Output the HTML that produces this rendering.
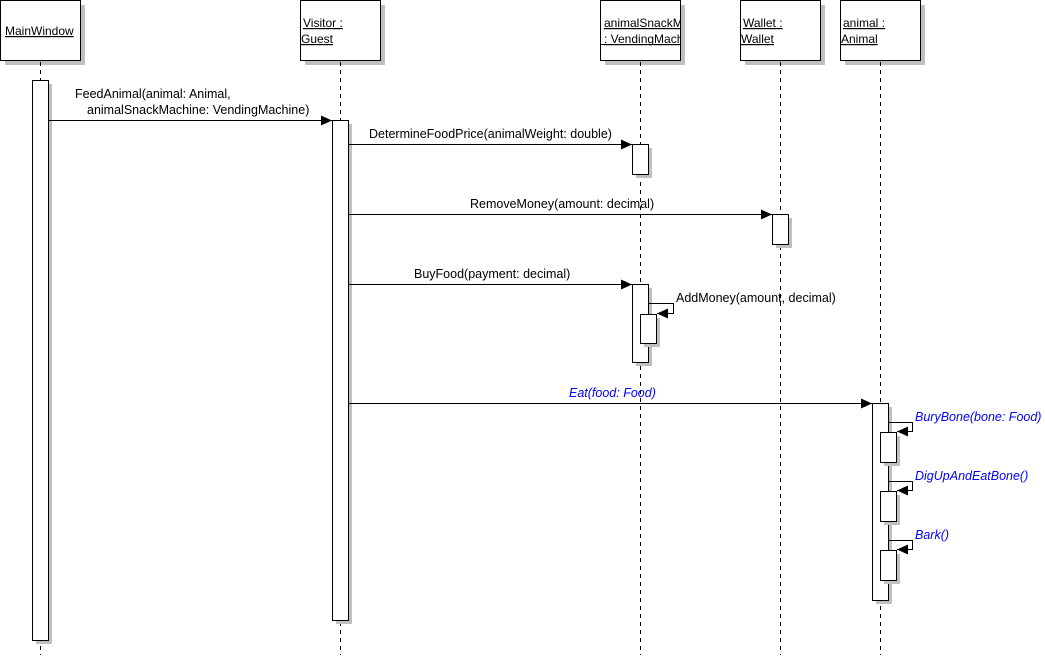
<!DOCTYPE html>
<html><head><meta charset="utf-8"><style>
html,body{margin:0;padding:0;background:#fff;}
svg{display:block;font-family:"Liberation Sans",Arial,sans-serif;font-size:12.5px;}
</style></head><body>
<svg width="1045" height="665" viewBox="0 0 1045 665" xmlns="http://www.w3.org/2000/svg">
<defs>
<marker id="a" markerWidth="12" markerHeight="10" refX="11" refY="5" orient="auto" markerUnits="userSpaceOnUse"><path d="M0,0 L11,5 L0,10 z" fill="#000"/></marker>
<clipPath id="c"><rect x="601" y="1" width="79" height="59"/></clipPath>
</defs>
<g fill="#c0c0c0">
<rect x="5" y="5" width="80" height="60"/><rect x="305" y="5" width="80" height="60"/><rect x="605" y="5" width="80" height="60"/><rect x="745" y="5" width="80" height="60"/><rect x="845" y="5" width="80" height="60"/>
</g>
<g stroke="#000" stroke-dasharray="4,4" stroke-width="1">
<line x1="40.5" y1="62" x2="40.5" y2="655"/><line x1="340.5" y1="62" x2="340.5" y2="655"/><line x1="640.5" y1="62" x2="640.5" y2="655"/><line x1="780.5" y1="62" x2="780.5" y2="655"/><line x1="880.5" y1="62" x2="880.5" y2="655"/>
</g>
<g fill="#fff" stroke="#000">
<rect x="0.5" y="0.5" width="80" height="60"/><rect x="300.5" y="0.5" width="80" height="60"/><rect x="600.5" y="0.5" width="80" height="60"/><rect x="740.5" y="0.5" width="80" height="60"/><rect x="840.5" y="0.5" width="80" height="60"/>
</g>
<line x1="601" y1="44.5" x2="680" y2="44.5" stroke="#000"/>
<g fill="#000" text-decoration="underline" font-size="12">
<text x="5" y="35">MainWindow</text>
<text x="303" y="27">Visitor :</text><text x="301" y="43">Guest</text>
<g clip-path="url(#c)"><text x="604" y="27">animalSnackM</text><text x="604" y="43">: VendingMach</text></g>
<text x="743" y="27">Wallet :</text><text x="741" y="43">Wallet</text>
<text x="843" y="27">animal :</text><text x="841" y="43">Animal</text>
</g>
<g fill="#c0c0c0">
<rect x="36" y="84" width="16" height="560"/><rect x="336" y="124" width="16" height="500"/>
<rect x="636" y="148" width="16" height="30"/><rect x="776" y="218" width="16" height="30"/>
<rect x="636" y="288" width="16" height="78"/><rect x="876" y="407" width="16" height="197"/>
</g>
<g fill="#fff" stroke="#000">
<rect x="32.5" y="80.5" width="16" height="560"/><rect x="332.5" y="120.5" width="16" height="500"/>
<rect x="632.5" y="144.5" width="16" height="30"/><rect x="772.5" y="214.5" width="16" height="30"/>
<rect x="632.5" y="284.5" width="16" height="78"/><rect x="872.5" y="403.5" width="16" height="197"/>
</g>
<g fill="#c0c0c0"><rect x="644" y="318" width="16" height="29"/><rect x="884" y="436" width="16" height="30"/><rect x="884" y="495" width="16" height="30"/><rect x="884" y="554" width="16" height="30"/></g>
<g fill="#fff" stroke="#000"><rect x="640.5" y="314.5" width="16" height="29"/><rect x="880.5" y="432.5" width="16" height="30"/><rect x="880.5" y="491.5" width="16" height="30"/><rect x="880.5" y="550.5" width="16" height="30"/></g>
<g stroke="#000" fill="none">
<line x1="49" y1="120.5" x2="332" y2="120.5" marker-end="url(#a)"/>
<line x1="349" y1="144.5" x2="632" y2="144.5" marker-end="url(#a)"/>
<line x1="349" y1="214.5" x2="772" y2="214.5" marker-end="url(#a)"/>
<line x1="349" y1="284.5" x2="632" y2="284.5" marker-end="url(#a)"/>
<line x1="349" y1="403.5" x2="872" y2="403.5" marker-end="url(#a)"/>
<polyline points="649,303.5 673.5,303.5 673.5,313.5 657,313.5" marker-end="url(#a)"/>
<polyline points="889,422.5 912.5,422.5 912.5,431.5 897,431.5" marker-end="url(#a)"/>
<polyline points="889,481.5 912.5,481.5 912.5,490.5 897,490.5" marker-end="url(#a)"/>
<polyline points="889,540.5 912.5,540.5 912.5,549.5 897,549.5" marker-end="url(#a)"/>
</g>
<g fill="#000">
<text x="75" y="98">FeedAnimal(animal: Animal,</text>
<text x="87" y="114">animalSnackMachine: VendingMachine)</text>
<text x="369" y="138">DetermineFoodPrice(animalWeight: double)</text>
<text x="470" y="208">RemoveMoney(amount: decimal)</text>
<text x="414" y="278">BuyFood(payment: decimal)</text>
<text x="676" y="302">AddMoney(amount, decimal)</text>
</g>
<g fill="#0000ff" font-style="italic">
<text x="569" y="397">Eat(food: Food)</text>
<text x="915" y="421">BuryBone(bone: Food)</text>
<text x="915" y="480">DigUpAndEatBone()</text>
<text x="915" y="539">Bark()</text>
</g>
</svg>
</body></html>
